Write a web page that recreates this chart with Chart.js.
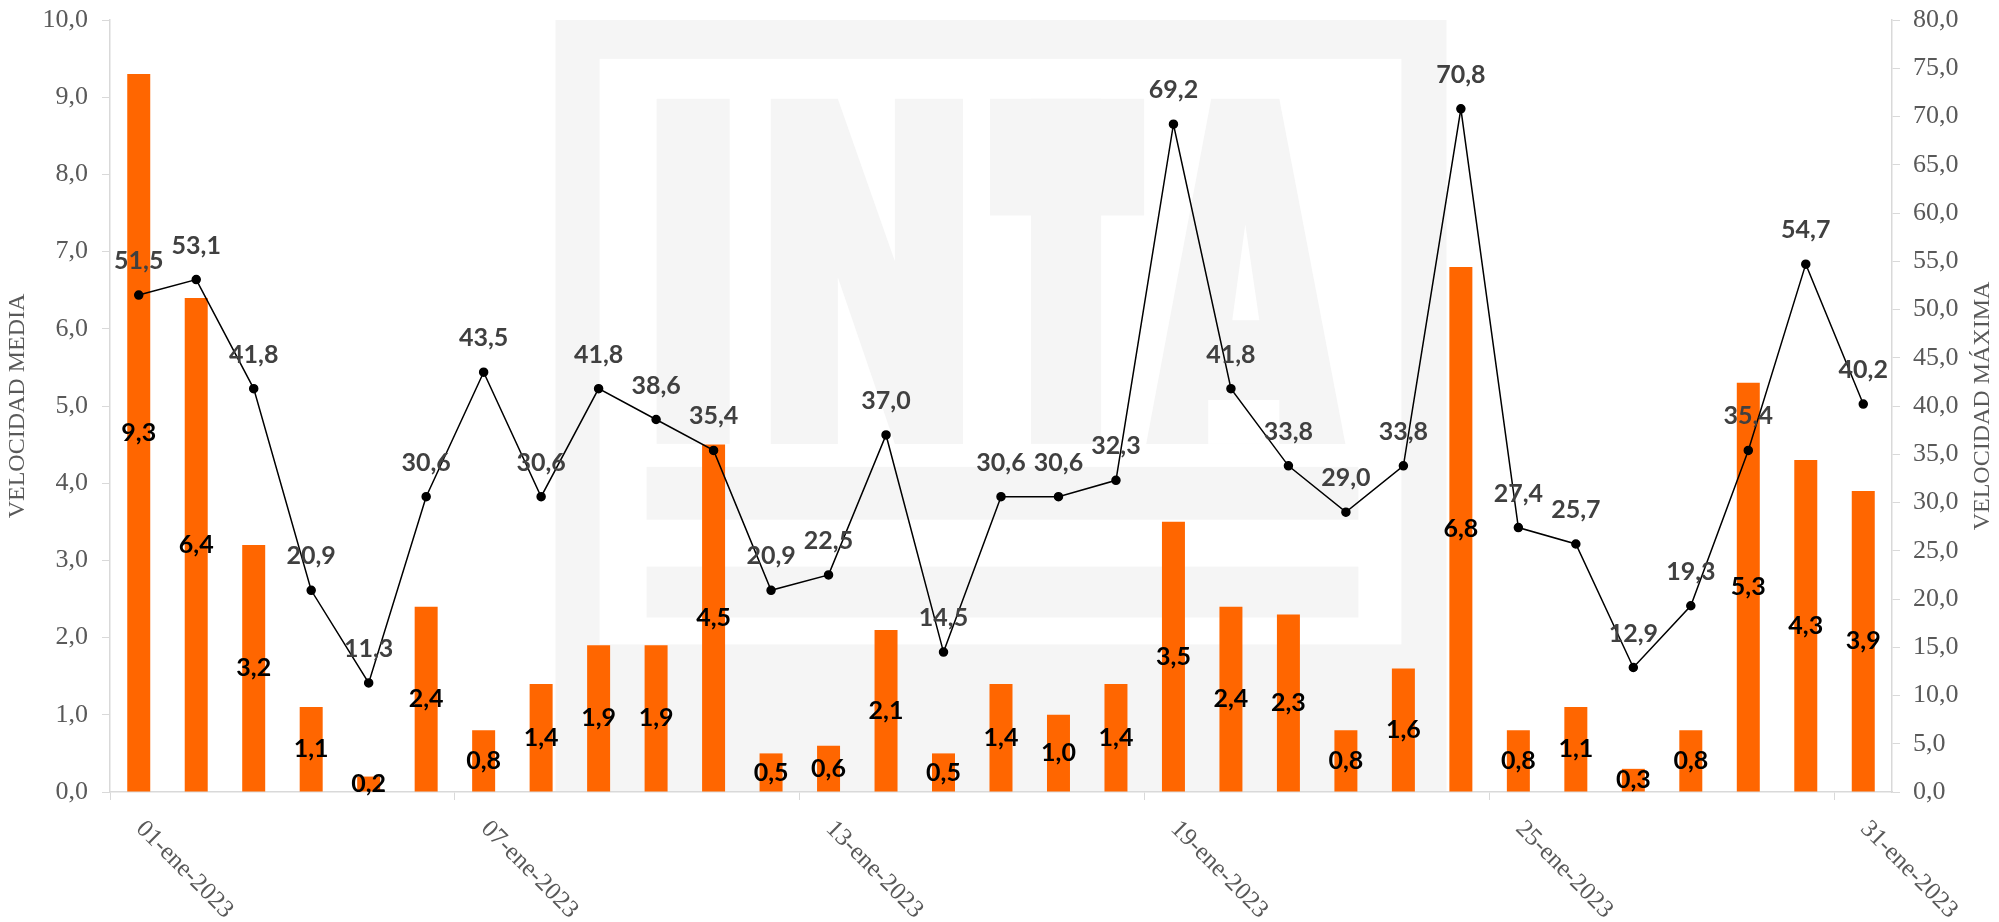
<!DOCTYPE html>
<html>
<head>
<meta charset="utf-8">
<title>Velocidad del viento - enero 2023</title>
<script src="https://cdn.jsdelivr.net/npm/chart.js@4.4.1/dist/chart.umd.min.js"></script>
<style>
  html, body { margin: 0; padding: 0; background: #fff; }
  canvas { display: block; }
</style>
</head>
<body>
<canvas id="chart" width="1999" height="922"></canvas>
<script>
// Datos diarios de enero 2023
const days = [
  "01-ene-2023", "02-ene-2023", "03-ene-2023", "04-ene-2023", "05-ene-2023", "06-ene-2023",
  "07-ene-2023", "08-ene-2023", "09-ene-2023", "10-ene-2023", "11-ene-2023", "12-ene-2023",
  "13-ene-2023", "14-ene-2023", "15-ene-2023", "16-ene-2023", "17-ene-2023", "18-ene-2023",
  "19-ene-2023", "20-ene-2023", "21-ene-2023", "22-ene-2023", "23-ene-2023", "24-ene-2023",
  "25-ene-2023", "26-ene-2023", "27-ene-2023", "28-ene-2023", "29-ene-2023", "30-ene-2023",
  "31-ene-2023"
];
const xTickLabels = ["01-ene-2023", "07-ene-2023", "13-ene-2023", "19-ene-2023", "25-ene-2023", "31-ene-2023"];

// velocidad media (barras, eje izquierdo)
const velMedia = [9.3, 6.4, 3.2, 1.1, 0.2, 2.4, 0.8, 1.4, 1.9, 1.9, 4.5, 0.5, 0.6, 2.1, 0.5, 1.4,
  1.0, 1.4, 3.5, 2.4, 2.3, 0.8, 1.6, 6.8, 0.8, 1.1, 0.3, 0.8, 5.3, 4.3, 3.9];
// velocidad maxima (linea, eje derecho)
const velMaxima = [51.5, 53.1, 41.8, 20.9, 11.3, 30.6, 43.5, 30.6, 41.8, 38.6, 35.4, 20.9, 22.5, 37.0,
  14.5, 30.6, 30.6, 32.3, 69.2, 41.8, 33.8, 29.0, 33.8, 70.8, 27.4, 25.7, 12.9, 19.3, 35.4, 54.7, 40.2];

const fmt = (v) => v.toFixed(1).replace(".", ",");
const axisGray = "#d9d9d9";
const textGray = "#595959";
const serif = '"Liberation Serif", "Times New Roman", serif';

// marca de agua INTA detras del grafico
const watermark = {
  id: "watermark",
  beforeDraw(chart) {
    const a = chart.chartArea;
    const ctx = chart.ctx;
    const w = a.width * 0.5, h = a.height;
    const x0 = (a.left + a.right) / 2 - w / 2, y0 = a.top;
    const sx = w / 890, sy = h / 774;
    const rect = (x, y, rw, rh) => ctx.fillRect(x0 + x * sx, y0 + y * sy, rw * sx, rh * sy);
    const poly = (pts) => {
      ctx.beginPath();
      pts.forEach(([x, y], k) => {
        if (k === 0) ctx.moveTo(x0 + x * sx, y0 + y * sy);
        else ctx.lineTo(x0 + x * sx, y0 + y * sy);
      });
      ctx.closePath();
      ctx.fill();
    };
    const gray = "#f5f5f5";
    ctx.save();
    ctx.fillStyle = gray;
    rect(0, 0, 890, 774);
    ctx.fillStyle = "#fff";
    rect(44, 39, 801, 587);
    ctx.fillStyle = gray;
    rect(101, 79, 73, 346); // I
    poly([[215, 79], [282, 79], [339, 242], [339, 79], [407, 79], [407, 425],
      [339, 425], [282, 258], [282, 425], [215, 425]]); // N
    rect(434, 79, 154, 117); // T
    rect(475, 79, 70, 346);
    poly([[655, 79], [723, 79], [789, 425], [590, 425]]); // A
    ctx.fillStyle = "#fff";
    poly([[689, 205], [703, 301], [676, 301]]);
    rect(652, 381, 71, 44);
    ctx.fillStyle = gray;
    rect(91, 448, 711, 53);
    rect(91, 548, 711, 51);
    ctx.restore();
  }
};

// etiquetas de valores sobre barras y puntos
const valueLabels = {
  id: "valueLabels",
  afterDatasetsDraw(chart) {
    const ctx = chart.ctx;
    const bars = chart.getDatasetMeta(0).data;
    const pts = chart.getDatasetMeta(1).data;
    ctx.save();
    ctx.textAlign = "center";
    ctx.textBaseline = "middle";
    ctx.font = 'bold 25px Lato, "Noto Sans", sans-serif';
    ctx.fillStyle = "#000";
    bars.forEach((b, i) => {
      ctx.fillText(fmt(velMedia[i]), b.x, (b.y + b.base) / 2);
    });
    ctx.fillStyle = "#404040";
    pts.forEach((p, i) => {
      ctx.fillText(fmt(velMaxima[i]), p.x, p.y - 34);
    });
    ctx.restore();
  }
};

// fechas inclinadas y titulos de ejes
const axisText = {
  id: "axisText",
  afterDraw(chart) {
    const ctx = chart.ctx;
    const xs = chart.scales.x;
    const a = chart.chartArea;
    ctx.save();
    ctx.fillStyle = textGray;
    ctx.font = "25px " + serif;
    ctx.textAlign = "left";
    ctx.textBaseline = "middle";
    days.forEach((d, i) => {
      if (!xTickLabels.includes(d)) return;
      ctx.save();
      ctx.translate(xs.getPixelForValue(i) + 1, a.bottom + 33);
      ctx.rotate(Math.PI / 4);
      ctx.fillText(d, 0, 0);
      ctx.restore();
    });

    ctx.font = "24px " + serif;
    ctx.textAlign = "center";
    const midY = (a.top + a.bottom) / 2;
    [["VELOCIDAD MEDIA", 18], ["VELOCIDAD MÁXIMA", 1983]].forEach(([t, x]) => {
      ctx.save();
      ctx.translate(x, midY);
      ctx.rotate(-Math.PI / 2);
      ctx.fillText(t, 0, 0);
      ctx.restore();
    });
    ctx.restore();
  }
};

// ancho fijo de los ejes verticales, sin margen extra por las etiquetas
const fitY = (width) => (s) => {
  s.width = width;
  s.paddingTop = 0;
  s.paddingBottom = 0;
};

new Chart(document.getElementById("chart"), {
  type: "bar",
  data: {
    labels: days,
    datasets: [
      {
        type: "bar",
        label: "Velocidad media",
        data: velMedia,
        yAxisID: "y",
        backgroundColor: "#ff6600",
        barPercentage: 0.4,
        categoryPercentage: 1.0,
        order: 2,
      },
      {
        type: "line",
        label: "Velocidad máxima",
        data: velMaxima,
        yAxisID: "y1",
        borderColor: "#000",
        borderWidth: 1.5,
        pointRadius: 4,
        pointBackgroundColor: "#000",
        pointBorderColor: "#000",
        tension: 0,
        order: 1,
      },
    ],
  },
  options: {
    responsive: false,
    animation: false,
    devicePixelRatio: 1,
    layout: { padding: { top: 20, left: 0, right: 0, bottom: 0 } },
    plugins: {
      legend: { display: false },
      tooltip: { enabled: false },
    },
    scales: {
      x: {
        offset: true,
        grid: {
          offset: true,
          drawOnChartArea: false,
          tickLength: 8,
          color: (c) => (c.index % 6 === 0 ? axisGray : "rgba(0,0,0,0)"),
        },
        border: { color: axisGray, width: 1.5 },
        ticks: { display: false, autoSkip: false },
        afterFit: (s) => { s.height = 130; },
      },
      y: {
        position: "left",
        min: 0,
        max: 10,
        grid: { drawOnChartArea: false, tickLength: 8, color: axisGray },
        border: { color: axisGray, width: 1.5 },
        ticks: {
          stepSize: 1,
          padding: 14,
          color: textGray,
          font: { family: serif, size: 26 },
          callback: (v) => fmt(v),
        },
        afterFit: fitY(110),
      },
      y1: {
        position: "right",
        min: 0,
        max: 80,
        grid: { drawOnChartArea: false, tickLength: 8, color: axisGray },
        border: { color: axisGray, width: 1.5 },
        ticks: {
          stepSize: 5,
          padding: 13,
          color: textGray,
          font: { family: serif, size: 26 },
          callback: (v) => fmt(v),
        },
        afterFit: fitY(107),
      },
    },
  },
  plugins: [watermark, valueLabels, axisText],
});
</script>
</body>
</html>
